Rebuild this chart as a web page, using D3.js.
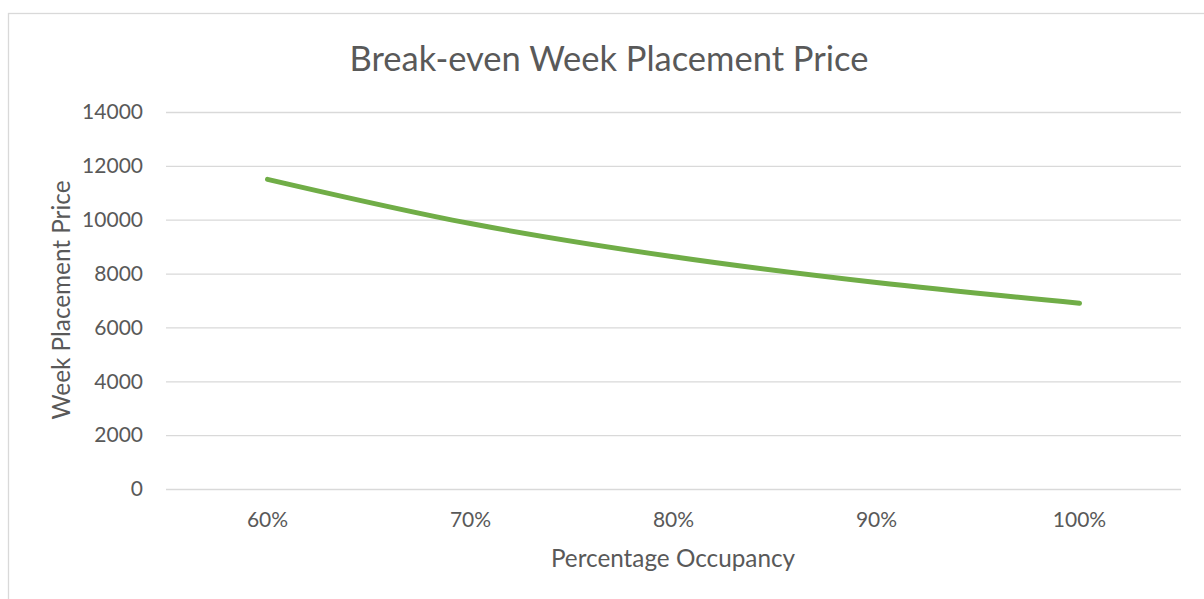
<!DOCTYPE html>
<html>
<head>
<meta charset="utf-8">
<script src="https://cdn.jsdelivr.net/npm/d3@7"></script>
<style>
  body { margin: 0; background: #fff; }
  svg { display: block; }
  text { font-family: Lato, "Open Sans", sans-serif; fill: #595959; }
</style>
</head>
<body>
<svg id="chart" width="1204" height="599"></svg>
<script>
// chart data
var categories = ["60%", "70%", "80%", "90%", "100%"];
var prices = [11500, 9857, 8625, 7667, 6900];
var yTicks = [0, 2000, 4000, 6000, 8000, 10000, 12000, 14000];

var svg = d3.select("#chart");
var margin = {top: 112, left: 166, right: 23, bottom: 110};
var width = 1204 - margin.left - margin.right,
    height = 599 - margin.top - margin.bottom;

// outer chart border (runs off the right and bottom)
svg.append("rect")
  .attr("x", 8.5).attr("y", 13.5)
  .attr("width", 1300).attr("height", 700)
  .attr("fill", "none").attr("stroke", "#d9d9d9").attr("stroke-width", 1.3);

var x = d3.scaleBand().domain(categories).range([0, width]);
var y = d3.scaleLinear().domain([0, 14000]).range([height, 0]);

var g = svg.append("g").attr("transform", "translate(" + margin.left + "," + margin.top + ")");

//create grid lines in y axis
g.append("g")
  .attr("class", "grid")
  .call(d3.axisLeft(y).tickValues(yTicks).tickSize(-width).tickFormat(""))
  .call(function(s){
    s.select(".domain").remove();
    s.selectAll("line").attr("stroke", "#d9d9d9").attr("stroke-width", 1.3);
  });

// y tick labels
g.append("g")
  .call(d3.axisLeft(y).tickValues(yTicks).tickSize(0).tickPadding(23).tickFormat(d3.format("d")))
  .call(function(s){
    s.select(".domain").remove();
    s.selectAll("text").style("font-size", "21px").attr("fill", "#595959");
  });

// x tick labels
g.append("g")
  .attr("transform", "translate(0," + height + ")")
  .call(d3.axisBottom(x).tickSize(0).tickPadding(23))
  .call(function(s){
    s.select(".domain").remove();
    s.selectAll("text").style("font-size", "21px").attr("fill", "#595959");
  });

var line = d3.line()
  .x(function(d, i){ return x(categories[i]) + x.bandwidth() / 2; })
  .y(function(d){ return y(d); })
  .curve(d3.curveCatmullRom);

g.append("path")
  .datum(prices)
  .attr("d", line)
  .attr("fill", "none")
  .attr("stroke", "#70ad47")
  .attr("stroke-width", 5)
  .attr("stroke-linecap", "round");

// title
svg.append("text")
  .attr("x", 609).attr("y", 71)
  .attr("text-anchor", "middle")
  .style("font-size", "34.5px")
  .text("Break-even Week Placement Price");

// axis titles
svg.append("text")
  .attr("x", 673).attr("y", 567)
  .attr("text-anchor", "middle")
  .style("font-size", "24.3px")
  .text("Percentage Occupancy");

svg.append("text")
  .attr("transform", "translate(70,300) rotate(-90)")
  .attr("text-anchor", "middle")
  .style("font-size", "24.3px")
  .text("Week Placement Price");
</script>
</body>
</html>
